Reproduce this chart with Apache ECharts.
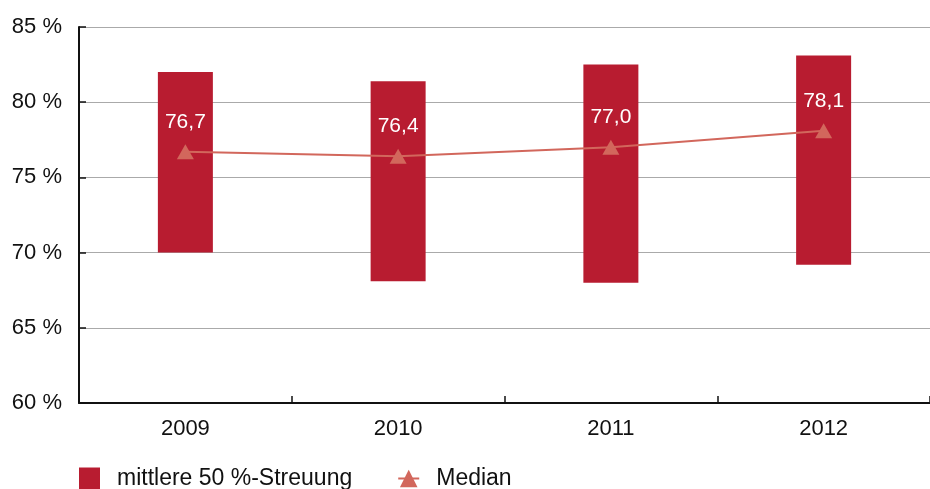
<!DOCTYPE html>
<html><head><meta charset="utf-8">
<script src="https://cdn.jsdelivr.net/npm/echarts@6/dist/echarts.min.js"></script>
<style>html,body{margin:0;padding:0;background:#fff}#c{width:930px;height:489px}</style>
</head><body><div id="c"></div>
<script>
const categories = ['2009', '2010', '2011', '2012'];
const lowerQuartile = [70.0, 68.1, 68.0, 69.2];
const upperQuartile = [82.0, 81.4, 82.5, 83.1];
const median = [76.7, 76.4, 77.0, 78.1];
const yTicks = [60, 65, 70, 75, 80, 85];

const spread = upperQuartile.map((u, i) => +(u - lowerQuartile[i]).toFixed(2));
const font = 'Liberation Sans, Arial, sans-serif';
const chart = echarts.init(document.getElementById('c'));
chart.setOption({
  animation: false,
  grid: { left: 79, right: -2, top: 27, bottom: 86, containLabel: false },
  legend: {
    left: 79, top: 467, padding: 0, itemGap: 45, itemWidth: 21, itemHeight: 22,
    textStyle: { fontFamily: font, fontSize: 23, color: '#111', padding: [0, 0, 0, 12] },
    data: [
      { name: 'mittlere 50 %-Streuung', icon: 'rect' },
      { name: 'Median' }
    ]
  },
  xAxis: {
    type: 'category', data: categories,
    axisLine: { lineStyle: { color: '#111', width: 2 } },
    axisTick: { show: true, interval: 0, inside: true, length: 7, lineStyle: { color: '#111', width: 1.5 } },
    axisLabel: { fontFamily: font, fontSize: 22, color: '#111', margin: 15 }
  },
  yAxis: {
    type: 'value', min: yTicks[0], max: yTicks[yTicks.length - 1], interval: 5,
    axisLine: { show: true, lineStyle: { color: '#111', width: 2 } },
    axisTick: { show: true, inside: true, length: 7, lineStyle: { color: '#111', width: 1.5 } },
    splitLine: { lineStyle: { color: '#aaa', width: 1.2 } },
    axisLabel: { fontFamily: font, fontSize: 22, color: '#111', margin: 17, formatter: v => v + ' %' }
  },
  series: [
    { name: 'base', type: 'bar', stack: 's', data: lowerQuartile, barWidth: 55,
      itemStyle: { color: 'transparent' }, silent: true },
    { name: 'mittlere 50 %-Streuung', type: 'bar', stack: 's', data: spread, barWidth: 55,
      itemStyle: { color: '#b81c30' } },
    { name: 'Median', type: 'line', data: median, z: 5,
      symbol: 'triangle', symbolSize: [17, 15],
      lineStyle: { color: '#d2675c', width: 2 },
      itemStyle: { color: '#d2675c' },
      label: { show: true, position: 'top', distance: 12, color: '#fff', fontFamily: font, fontSize: 21,
        formatter: p => p.value.toFixed(1).replace('.', ',') } }
  ]
});
</script></body></html>
